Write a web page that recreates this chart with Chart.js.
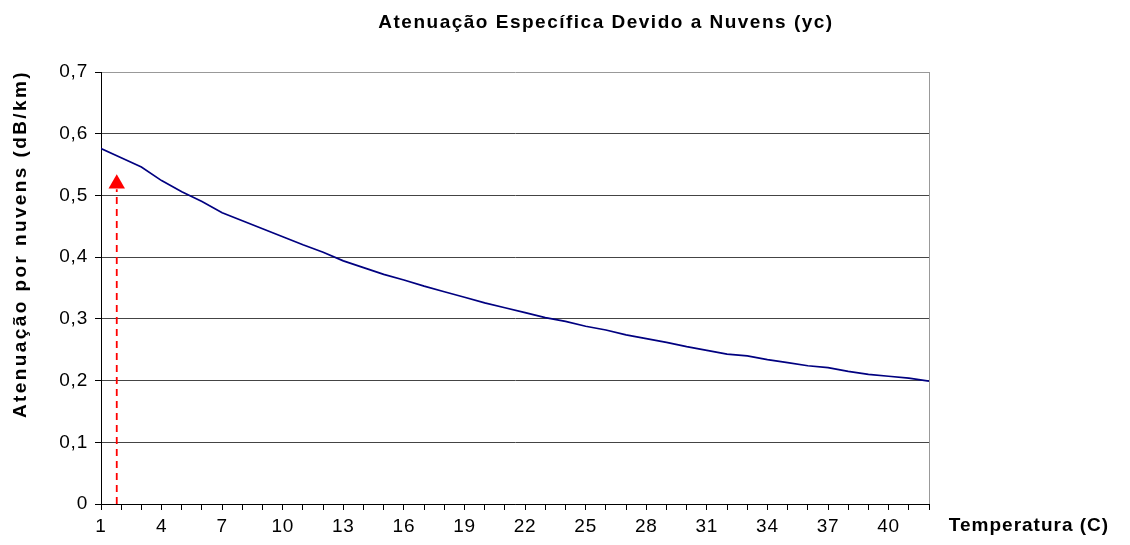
<!DOCTYPE html>
<html>
<head>
<meta charset="utf-8">
<script src="https://cdn.jsdelivr.net/npm/chart.js@4.4.1/dist/chart.umd.min.js"></script>
<style>
    body { margin: 0; background: #fff; }
    #wrap { width: 1130px; height: 545px; }
</style>
</head>
<body>
<div id="wrap"><canvas id="cloudChart"></canvas></div>
<script>
// temperatura (C) e atenuação específica por nuvens (dB/km)
const temps = [1, 2, 3, 4, 5, 6, 7, 8, 9, 10, 11, 12, 13, 14, 15, 16, 17, 18, 19, 20, 21,
    22, 23, 24, 25, 26, 27, 28, 29, 30, 31, 32, 33, 34, 35, 36, 37, 38, 39, 40, 41, 42];
const atten = [0.576, 0.561, 0.546, 0.524, 0.506, 0.490, 0.472, 0.459, 0.446, 0.433, 0.420,
    0.408, 0.394, 0.383, 0.372, 0.363, 0.353, 0.344, 0.335, 0.326, 0.318, 0.310, 0.302,
    0.296, 0.288, 0.282, 0.274, 0.268, 0.262, 0.255, 0.249, 0.243, 0.240, 0.234, 0.229,
    0.224, 0.221, 0.215, 0.210, 0.207, 0.204, 0.199];

// marcador vermelho (triângulo + linha tracejada)
const markerX = 1.78;
const markerY = 0.519;
const dashTop = 0.51;

const yTicks = [0, 0.1, 0.2, 0.3, 0.4, 0.5, 0.6, 0.7];
const xLabelStep = 3;

const chartTitle = "Atenuação Específica Devido a Nuvens (yc)";
const yTitle = "Atenuação por nuvens (dB/km)";
const xTitle = "Temperatura (C)";

const FONT = "'Liberation Sans', Arial, sans-serif";

const textPlugin = {
    id: "texts",
    beforeDraw(chart) {
        chart.ctx.letterSpacing = "0.8px";
    },
    afterDraw(chart) {
        const ctx = chart.ctx;
        const area = chart.chartArea;
        ctx.save();
        // borda direita
        ctx.strokeStyle = "#999";
        ctx.lineWidth = 1;
        ctx.beginPath();
        ctx.moveTo(Math.round(area.right) + 0.5, area.top);
        ctx.lineTo(Math.round(area.right) + 0.5, area.bottom);
        ctx.stroke();

        ctx.fillStyle = "#000";
        ctx.textBaseline = "middle";
        ctx.textAlign = "center";
        ctx.font = "bold 19px " + FONT;
        ctx.letterSpacing = "1.5px";
        ctx.fillText(chartTitle, 606, 23);

        ctx.letterSpacing = "1px";
        ctx.fillText(xTitle, 1029, 526);

        ctx.translate(21, 244);
        ctx.rotate(-Math.PI / 2);
        ctx.letterSpacing = "2.4px";
        ctx.fillText(yTitle, 0, 0);
        ctx.restore();
    }
};

new Chart(document.getElementById("cloudChart"), {
    type: "line",
    data: {
        datasets: [
            {
                data: temps.map((t, i) => ({ x: t, y: atten[i] })),
                borderColor: "#000080",
                borderWidth: 1.7,
                pointRadius: 0,
                tension: 0
            },
            {
                data: [{ x: markerX, y: 0 }, { x: markerX, y: dashTop }],
                borderColor: "#ff0000",
                borderWidth: 1.8,
                borderDash: [7, 5],
                pointRadius: 0
            },
            {
                data: [{ x: markerX, y: markerY }],
                showLine: false,
                pointStyle: "triangle",
                pointRadius: 9.5,
                backgroundColor: "#ff0000",
                borderColor: "#ff0000",
                borderWidth: 0
            }
        ]
    },
    options: {
        responsive: true,
        maintainAspectRatio: false,
        animation: false,
        layout: { padding: { top: 72, right: 201, left: 0, bottom: 0 } },
        plugins: {
            legend: { display: false },
            tooltip: { enabled: false }
        },
        scales: {
            x: {
                type: "linear",
                min: 1,
                max: 42,
                afterFit: s => { s.height = 41; },
                ticks: {
                    stepSize: 1,
                    autoSkip: false,
                    maxRotation: 0,
                    padding: 5,
                    color: "#000",
                    font: { family: FONT, size: 19 },
                    callback: v => ((v - 1) % xLabelStep === 0 ? String(v) : "")
                },
                grid: {
                    drawOnChartArea: false,
                    drawTicks: true,
                    tickLength: 6,
                    tickColor: "#000"
                },
                border: { display: true, color: "#000", width: 1 }
            },
            y: {
                min: 0,
                max: 0.7,
                afterFit: s => { s.width = 101; },
                afterBuildTicks: s => { s.ticks = yTicks.map(v => ({ value: v })); },
                ticks: {
                    padding: 7,
                    color: "#000",
                    font: { family: FONT, size: 19 },
                    callback: v => (v === 0 ? "0" : v.toFixed(1).replace(".", ","))
                },
                grid: {
                    color: c => (c.tick && c.tick.value >= 0.7 ? "#999" : "#444"),
                    tickColor: "#000",
                    tickLength: 6,
                    lineWidth: 1
                },
                border: { display: true, color: "#000", width: 1 }
            }
        }
    },
    plugins: [textPlugin]
});
</script>
</body>
</html>
